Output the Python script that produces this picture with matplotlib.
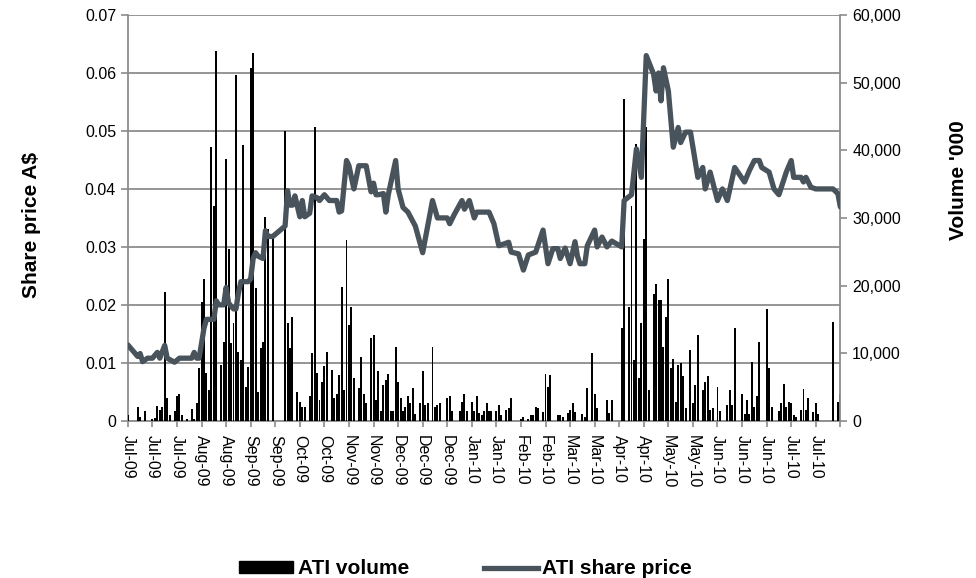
import matplotlib.pyplot as plt
from matplotlib.patches import Patch
from matplotlib.lines import Line2D
from matplotlib.ticker import FuncFormatter
import numpy as np

plt.rcParams['font.family'] = ['Liberation Sans', 'DejaVu Sans']

# trading-day index of tick labels (every 10 days)
tick_labels = ['Jul-09', 'Jul-09', 'Jul-09', 'Aug-09', 'Aug-09', 'Sep-09', 'Sep-09',
               'Oct-09', 'Oct-09', 'Nov-09', 'Nov-09', 'Dec-09', 'Dec-09', 'Dec-09',
               'Jan-10', 'Jan-10', 'Feb-10', 'Feb-10', 'Mar-10', 'Mar-10', 'Apr-10',
               'Apr-10', 'May-10', 'May-10', 'Jun-10', 'Jun-10', 'Jun-10', 'Jul-10',
               'Jul-10', '']

# daily volume ('000), index 0..290
volume = [
    900, 0, 0, 0, 2100, 600, 0, 1500, 0, 0,
    200, 400, 2200, 1600, 2100, 19000, 3400, 900, 0, 1400,
    3700, 3900, 900, 0, 300, 0, 1700, 300, 2600, 7800,
    17600, 21000, 7000, 4600, 40500, 31800, 54700, 0, 8250, 11700,
    38700, 25400, 11500, 14400, 51200, 10200, 9000, 40800, 5000, 8000,
    52200, 54400, 19600, 4300, 10700, 11700, 30100, 28400, 0, 27500,
    0, 0, 0, 0, 42900, 14400, 10700, 15400, 0, 4300,
    2850, 2100, 2100, 0, 3600, 10000, 43500, 7000, 3100, 5800,
    8100, 10100, 0, 7500, 3300, 4000, 6800, 19800, 4500, 26700,
    14150, 16800, 6300, 0, 4800, 9500, 4000, 2600, 0, 12200,
    12700, 3100, 7300, 1500, 5300, 6000, 6900, 1400, 1400, 10950,
    5800, 3300, 1400, 2100, 3600, 2600, 4800, 1000, 0, 2600,
    7300, 2300, 2600, 0, 10950, 2100, 2300, 2600, 0, 0,
    3400, 3700, 1500, 0, 0, 1500, 2850, 3900, 1500, 0,
    2850, 1500, 3600, 1200, 800, 1500, 2600, 1500, 1500, 0,
    1500, 2400, 800, 0, 1600, 1900, 3400, 0, 0, 0,
    200, 500, 0, 200, 900, 800, 2100, 1900, 0, 1300,
    6900, 5000, 6800, 0, 0, 900, 900, 600, 0, 1200,
    1600, 2600, 1300, 0, 0, 1000, 600, 4900, 0, 10000,
    4000, 1900, 0, 0, 0, 3100, 1200, 3100, 0, 0,
    0, 13650, 47600, 0, 16850, 31800, 9000, 40900, 6300, 14400,
    26900, 43400, 4600, 0, 18800, 20300, 17800, 17800, 10950, 15400,
    21000, 7800, 9200, 2850, 8250, 8600, 6600, 1900, 0, 10450,
    2600, 5300, 12700, 0, 4500, 5800, 6600, 1600, 1900, 0,
    5000, 1500, 0, 0, 2300, 4500, 2300, 13650, 0, 0,
    4000, 1000, 3100, 1000, 8750, 2100, 3600, 11700, 0, 0,
    16600, 7800, 2100, 0, 0, 1500, 2600, 5400, 2100, 2850,
    2600, 900, 600, 0, 1600, 4700, 1600, 3300, 0, 1300,
    2600, 1000, 0, 0, 0, 0, 0, 14650, 0, 2850,
    4000,
]

# share price (A$) at turning points of the line
price_day = [0, 4, 5, 6, 8, 10, 12, 13, 15, 16, 19, 21, 26, 27, 28, 29, 31, 32, 35, 36,
             37, 39, 40, 41, 43, 44, 45, 46, 49, 50, 51, 52, 53, 55, 56, 57, 59, 64, 65, 66,
             67, 68, 69, 70, 71, 72, 74, 75, 77, 78, 80, 82, 85, 86, 87, 89, 90, 92, 94, 97,
             99, 100, 101, 102, 104, 105, 106, 109, 110, 112, 114, 115, 117, 120, 124, 126, 130, 131, 133, 136,
             137, 139, 141, 142, 147, 149, 151, 153, 155, 156, 159, 161, 163, 166, 169, 171, 173, 175, 176, 178,
             180, 182, 183, 184, 186, 187, 190, 191, 193, 195, 197, 201, 202, 205, 207, 209, 211, 214, 215, 216,
             217, 218, 220, 222, 224, 225, 227, 229, 232, 234, 235, 237, 240, 242, 244, 247, 251, 253, 255, 257,
             258, 261, 263, 265, 266, 268, 270, 271, 274, 275, 276, 278, 280, 287, 289, 290]
price = [0.0131, 0.0111, 0.0116, 0.0102, 0.0108, 0.0108, 0.0118, 0.0108, 0.0130, 0.0108,
         0.0101, 0.0108, 0.0108, 0.0118, 0.0108, 0.0108, 0.0160, 0.0175, 0.0175, 0.0207,
         0.0200, 0.0200, 0.0230, 0.0203, 0.0193, 0.0193, 0.0220, 0.0240, 0.0240, 0.0245,
         0.0280, 0.0290, 0.0284, 0.0280, 0.0328, 0.0318, 0.0318, 0.0336, 0.0397, 0.0372,
         0.0372, 0.0388, 0.0370, 0.0352, 0.0380, 0.0352, 0.0358, 0.0388, 0.0385, 0.0380,
         0.0390, 0.0380, 0.0380, 0.0360, 0.0362, 0.0449, 0.0440, 0.0400, 0.0440, 0.0440,
         0.0395, 0.0410, 0.0390, 0.0390, 0.0392, 0.0360, 0.0390, 0.0449, 0.0400, 0.0368,
         0.0360, 0.0352, 0.0336, 0.0290, 0.0380, 0.0350, 0.0350, 0.0340, 0.0357, 0.0380,
         0.0365, 0.0380, 0.0350, 0.0360, 0.0360, 0.0340, 0.0302, 0.0305, 0.0308, 0.0291,
         0.0288, 0.0260, 0.0286, 0.0291, 0.0329, 0.0271, 0.0297, 0.0297, 0.0280, 0.0298,
         0.0271, 0.0309, 0.0284, 0.0271, 0.0271, 0.0302, 0.0329, 0.0300, 0.0317, 0.0300,
         0.0310, 0.0300, 0.0380, 0.0390, 0.0469, 0.0420, 0.0630, 0.0598, 0.0569, 0.0600,
         0.0552, 0.0609, 0.0569, 0.0472, 0.0506, 0.0480, 0.0498, 0.0498, 0.0420, 0.0437,
         0.0400, 0.0429, 0.0380, 0.0400, 0.0380, 0.0437, 0.0412, 0.0432, 0.0449, 0.0449,
         0.0437, 0.0429, 0.0400, 0.0390, 0.0403, 0.0429, 0.0449, 0.0420, 0.0420, 0.0412,
         0.0420, 0.0403, 0.0400, 0.0400, 0.0392, 0.0369]

days = np.arange(len(volume))
grey = '#8c8c8c'
line_col = '#48535b'

fig = plt.figure(figsize=(9.76, 5.78), dpi=100)
ax = fig.add_axes([0.131, 0.272, 0.730, 0.702])
ax2 = ax.twinx()
ax3 = fig.add_axes(ax.get_position(), sharex=ax, sharey=ax, frameon=False)

# price axis with grid
ax.set_ylim(0, 0.07)
ax.set_yticks(np.arange(0, 0.0701, 0.01))
ax.yaxis.set_major_formatter(FuncFormatter(lambda v, p: '0' if v == 0 else '%.2f' % v))
ax.grid(axis='y', color=grey, linewidth=1.3)
ax.set_xlim(0, len(volume) - 1)
ax.set_xticks(np.arange(0, len(volume), 10))
ax.set_xticklabels(tick_labels, rotation=270, fontsize=11.5)
ax.tick_params(axis='y', labelsize=11.5, color=grey, length=5, width=1.2)
ax.tick_params(axis='x', color=grey, length=4, width=1.2, pad=6)
for s in ['top', 'right']:
    ax.spines[s].set_visible(False)
for s in ['left', 'bottom']:
    ax.spines[s].set_color(grey)
    ax.spines[s].set_linewidth(1.3)

# volume bars
ax2.bar(days, volume, width=0.8, color='black')
ax2.set_ylim(0, 60000)
ax2.set_yticks(np.arange(0, 60001, 10000))
ax2.yaxis.set_major_formatter(FuncFormatter(lambda v, p: '{:,.0f}'.format(v)))
ax2.tick_params(axis='y', labelsize=11.5, color=grey, length=5, width=1.2)
for s in ['top', 'left', 'bottom']:
    ax2.spines[s].set_visible(False)
ax2.spines['right'].set_color(grey)
ax2.spines['right'].set_linewidth(1.3)

# share price line on top
ax3.plot(price_day, price, color=line_col, linewidth=3.8, solid_joinstyle='round',
         solid_capstyle='round')
ax3.axis('off')

fig.text(32 / 976, 1 - 225 / 578, 'Share price A$', rotation=90, ha='center', va='center',
         fontsize=15, fontweight='bold')
fig.text(958 / 976, 1 - 180 / 578, "Volume '000", rotation=90, ha='center', va='center',
         fontsize=15, fontweight='bold')

handles = [Patch(facecolor='black', edgecolor='black'),
           Line2D([0], [0], color=line_col, linewidth=3.8)]
fig.legend(handles, ['ATI volume', 'ATI share price'], loc='center',
           bbox_to_anchor=(0.477, 0.016), ncol=2, frameon=False,
           prop={'size': 15, 'weight': 'bold'}, handlelength=2.6, handleheight=0.5,
           handletextpad=0.2, columnspacing=3.6)

fig.savefig('out.png', dpi=100)
